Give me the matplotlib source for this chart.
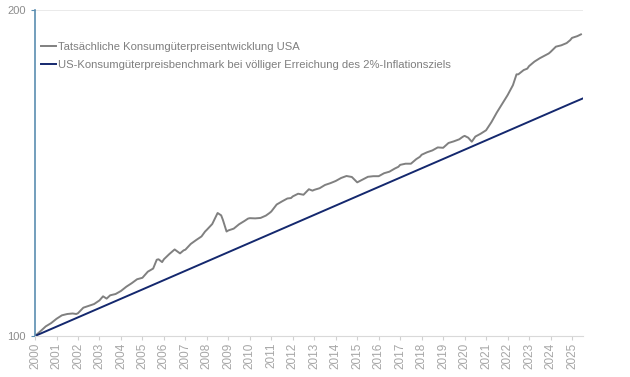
import matplotlib
matplotlib.use("Agg")
import matplotlib.pyplot as plt
from matplotlib.ticker import FixedLocator, NullLocator

# US CPI (seasonally adjusted index), month stamps "YYYY-MM"
cpi_months = [
    "2000-01", "2000-04", "2000-07", "2000-10",
    "2001-01", "2001-04", "2001-07", "2001-10", "2001-12",
    "2002-01", "2002-04", "2002-07", "2002-10",
    "2003-01", "2003-03", "2003-05", "2003-07", "2003-10",
    "2004-01", "2004-04", "2004-07", "2004-10",
    "2005-01", "2005-04", "2005-07", "2005-09", "2005-10", "2005-12",
    "2006-01", "2006-04", "2006-07", "2006-10", "2006-12",
    "2007-01", "2007-04", "2007-07", "2007-10", "2007-12",
    "2008-01", "2008-04", "2008-07", "2008-09", "2008-10", "2008-12",
    "2009-01", "2009-04", "2009-07", "2009-10", "2009-12",
    "2010-01", "2010-04", "2010-07", "2010-10", "2010-12",
    "2011-01", "2011-04", "2011-07", "2011-10", "2011-12",
    "2012-01", "2012-04", "2012-07", "2012-10", "2012-12",
    "2013-01", "2013-04", "2013-07", "2013-10", "2013-12",
    "2014-01", "2014-04", "2014-07", "2014-10", "2014-12",
    "2015-01", "2015-04", "2015-07", "2015-10", "2015-12",
    "2016-01", "2016-04", "2016-07", "2016-10", "2016-12",
    "2017-01", "2017-04", "2017-07", "2017-10", "2017-12",
    "2018-01", "2018-04", "2018-07", "2018-10", "2018-12",
    "2019-01", "2019-04", "2019-07", "2019-10", "2019-12",
    "2020-01", "2020-03", "2020-05", "2020-07", "2020-10", "2020-12",
    "2021-01", "2021-04", "2021-07", "2021-10", "2021-12",
    "2022-01", "2022-04", "2022-06", "2022-07", "2022-10", "2022-12",
    "2023-01", "2023-04", "2023-07", "2023-10", "2023-12",
    "2024-01", "2024-04", "2024-07", "2024-10", "2024-12",
    "2025-01", "2025-04", "2025-06",
]
cpi_index = [
    169.3, 171.0, 172.8, 174.0,
    175.6, 176.9, 177.4, 177.6, 177.4,
    177.7, 179.8, 180.5, 181.2,
    182.6, 184.2, 183.3, 184.6, 185.1,
    186.3, 188.0, 189.4, 191.0,
    191.6, 194.1, 195.4, 199.1, 199.3, 198.1,
    199.3, 201.5, 203.5, 201.8, 203.1,
    203.4, 205.9, 207.6, 209.2, 211.4,
    212.2, 214.8, 219.9, 218.8, 216.6, 211.4,
    211.9, 212.7, 214.7, 216.2, 217.3,
    217.5, 217.4, 217.6, 218.7, 219.9,
    220.6, 223.9, 225.4, 226.8, 227.0,
    227.8, 229.1, 228.6, 231.3, 230.6,
    231.0, 231.8, 233.4, 234.3, 235.0,
    235.4, 236.9, 237.9, 237.4, 235.6,
    234.7, 236.1, 237.5, 237.8, 237.8,
    237.8, 239.3, 240.1, 241.7, 242.6,
    243.6, 244.2, 244.2, 246.6, 247.8,
    248.9, 250.2, 251.2, 252.8, 252.7,
    252.6, 255.2, 256.1, 257.2, 258.6,
    259.1, 258.1, 255.9, 258.7, 260.3, 261.6,
    262.2, 266.8, 272.3, 277.4, 280.9,
    282.5, 288.6, 295.3, 295.3, 298.0, 298.9,
    300.5, 303.4, 305.6, 307.5, 308.7,
    309.7, 313.2, 314.1, 315.6, 317.6,
    319.1, 320.3, 321.5,
]

# 2% target path, index 2000 = 100
bench_years = [2000, 2005, 2010, 2015, 2020, 2025, 2025.5]
bench_index = [100.0, 110.4, 121.9, 134.6, 148.6, 164.1, 165.7]

legend_labels = [
    "Tatsächliche Konsumgüterpreisentwicklung USA",
    "US-Konsumgüterpreisbenchmark bei völliger Erreichung des 2%-Inflationsziels",
]
year_ticks = list(range(2000, 2026))

base = cpi_index[0]
cpi_x = [int(m[:4]) + (int(m[5:]) - 1) / 12 for m in cpi_months]
cpi_y = [v / base * 100 for v in cpi_index]

plt.rcParams['font.family'] = ['Liberation Sans', 'DejaVu Sans']

fig = plt.figure(figsize=(6.3, 3.77), dpi=100)
ax = fig.add_axes([0.0556, 0.1088, 0.8694, 0.8647])

ax.plot(cpi_x, cpi_y, color='#808080', lw=1.4, label=legend_labels[0])
ax.plot(bench_years, bench_index, color='#14286e', lw=1.4, label=legend_labels[1])

ax.set_yscale('log')
ax.set_ylim(100, 200)
ax.set_xlim(2000, 2025.5)
ax.yaxis.set_major_locator(FixedLocator([100, 200]))
ax.yaxis.set_minor_locator(NullLocator())
ax.set_yticklabels(['100', '200'])
ax.set_xticks(year_ticks)
ax.set_xticklabels([str(y) for y in year_ticks], rotation=90)

ax.axhline(200, color='#e6e6e6', lw=1.2, zorder=0)
for s in ['top', 'right']:
    ax.spines[s].set_visible(False)
ax.spines['left'].set_color('#5a8db0')
ax.spines['left'].set_linewidth(1.2)
ax.spines['bottom'].set_color('#d9d9d9')
ax.tick_params(axis='x', colors='#d0d0d0', labelcolor='#a6a6a6', labelsize=8.5, length=3, pad=2)
ax.tick_params(axis='y', colors='#5a8db0', labelcolor='#8c8c8c', labelsize=8, length=3)

leg = ax.legend(loc='upper left', bbox_to_anchor=(0.0, 0.92), frameon=False,
                fontsize=8.1, handlelength=1.4, handletextpad=0.1, labelspacing=0.7,
                borderaxespad=0.2, borderpad=0.3)
for t in leg.get_texts():
    t.set_color('#7f7f7f')

fig.savefig('out.png', dpi=100)
